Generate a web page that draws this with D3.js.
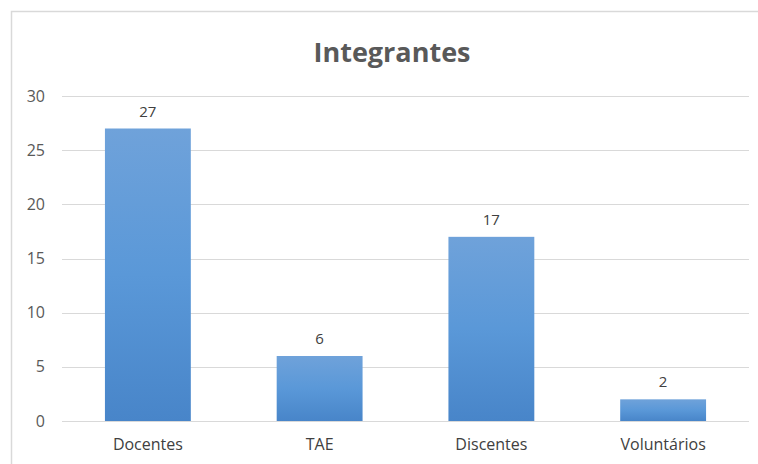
<!DOCTYPE html>
<html lang="pt">
<head>
<meta charset="utf-8">
<title>Integrantes</title>
<script src="https://cdn.jsdelivr.net/npm/d3@7"></script>
<style>
  html, body { margin: 0; padding: 0; background: #fff; }
  svg { display: block; }
  svg text { font-family: "Open Sans", sans-serif; }
</style>
</head>
<body>
<div id="chart"></div>
<script>
  // data
  var categories = ["Docentes", "TAE", "Discentes", "Voluntários"];
  var values = [27, 6, 17, 2];
  var yTicks = [0, 5, 10, 15, 20, 25, 30];
  var title = "Integrantes";

  var width = 758, height = 464;
  var margin = { top: 96, right: 9, bottom: 43, left: 62 };

  var svg = d3.select("#chart").append("svg")
      .attr("width", width)
      .attr("height", height);

  // bar gradient, lighter at the top
  var grad = svg.append("defs").append("linearGradient")
      .attr("id", "barGrad")
      .attr("x1", 0).attr("y1", 0).attr("x2", 0).attr("y2", 1);
  grad.append("stop").attr("offset", "0%").attr("stop-color", "#6fa2da");
  grad.append("stop").attr("offset", "50%").attr("stop-color", "#5a98d8");
  grad.append("stop").attr("offset", "100%").attr("stop-color", "#4885c9");

  // chart frame (only top and left are in the crop)
  svg.append("rect")
      .attr("x", 11.5).attr("y", 11.5)
      .attr("width", 800).attr("height", 500)
      .attr("fill", "none")
      .attr("stroke", "#d9d9d9")
      .attr("stroke-width", 1.5);

  var x = d3.scaleBand()
      .domain(categories)
      .range([margin.left, width - margin.right])
      .paddingInner(0.5)
      .paddingOuter(0.25);

  var y = d3.scaleLinear()
      .domain([0, 30])
      .range([height - margin.bottom, margin.top]);

  // gridlines + y labels
  var yAxis = svg.append("g")
      .attr("transform", "translate(" + margin.left + ",0)")
      .call(d3.axisLeft(y).tickValues(yTicks)
        .tickSize(-(width - margin.left - margin.right))
        .tickPadding(17));
  yAxis.select(".domain").remove();
  yAxis.selectAll(".tick line")
      .attr("stroke", "#d9d9d9")
      .attr("shape-rendering", "crispEdges");
  yAxis.selectAll(".tick text")
      .attr("fill", "#595959")
      .attr("font-size", 16);

  // bars
  svg.append("g").selectAll("rect")
      .data(values)
      .enter().append("rect")
      .attr("x", function(d, i) { return x(categories[i]); })
      .attr("y", function(d) { return y(d); })
      .attr("width", x.bandwidth())
      .attr("height", function(d) { return y(0) - y(d); })
      .attr("fill", "url(#barGrad)");

  // value labels
  svg.append("g").selectAll("text")
      .data(values)
      .enter().append("text")
      .attr("x", function(d, i) { return x(categories[i]) + x.bandwidth() / 2; })
      .attr("y", function(d) { return y(d) - 12; })
      .attr("text-anchor", "middle")
      .attr("fill", "#404040")
      .attr("font-size", 15)
      .text(function(d) { return d; });

  // category labels
  var xAxis = svg.append("g")
      .attr("transform", "translate(0," + y(0) + ")")
      .call(d3.axisBottom(x).tickSize(0).tickPadding(18));
  xAxis.select(".domain").remove();
  xAxis.selectAll(".tick text")
      .attr("fill", "#404040")
      .attr("font-size", 16);

  // title
  svg.append("text")
      .attr("x", 392)
      .attr("y", 62)
      .attr("text-anchor", "middle")
      .attr("fill", "#595959")
      .attr("font-size", 27)
      .attr("font-weight", "bold")
      .text(title);
</script>
</body>
</html>
